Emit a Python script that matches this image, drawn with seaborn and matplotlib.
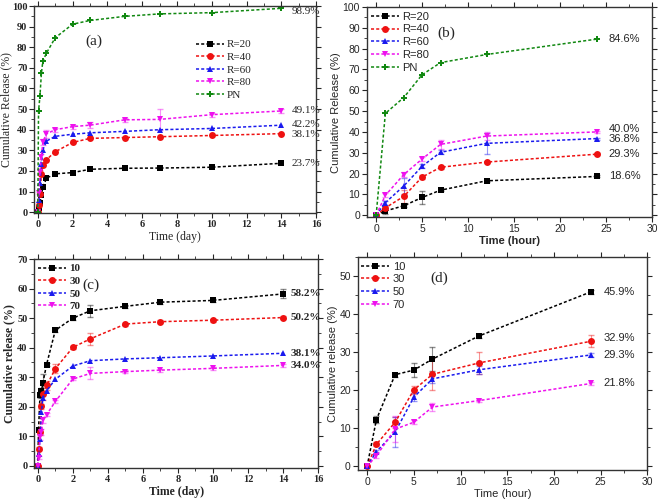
import numpy as np
import pandas as pd
import matplotlib
matplotlib.use("Agg")
import matplotlib.pyplot as plt
import seaborn as sns
from matplotlib.ticker import MultipleLocator, AutoMinorLocator

# time points
t_day = [0, 1/24, 3/24, 5/24, 7/24, 0.5, 1, 2, 3, 5, 7, 10, 14]
t_hour = [0, 1, 3, 5, 7, 12, 24]

# panel (a) - days
a_labels = ["R=20", "R=40", "R=60", "R=80", "PN"]
a_r20 = [0, 2.0, 4.5, 8.5, 12.0, 16.5, 18.6, 19.2, 20.8, 21.3, 21.4, 21.8, 23.7]
a_r40 = [0, 3.5, 9.0, 18.3, 23.0, 25.5, 29.3, 33.8, 35.8, 36.2, 36.6, 37.2, 38.1]
a_r60 = [0, 6.0, 14.0, 23.5, 30.2, 34.5, 36.8, 37.8, 38.5, 39.2, 40.0, 40.6, 42.2]
a_r80 = [0, 9.5, 19.5, 27.0, 34.0, 38.0, 40.0, 41.5, 42.2, 44.8, 45.0, 47.3, 49.1]
a_pn = [0, 48.9, 56.5, 67.5, 73.3, 77.2, 84.6, 91.2, 93.0, 95.0, 96.2, 96.8, 98.9]
a_err80 = [0, 0.5, 1, 1, 1.5, 2, 1, 1, 1.5, 1, 5, 1, 1]

# panel (b) - hours
b_r20 = [0, 2.0, 4.5, 8.5, 12.0, 16.5, 18.6]
b_r40 = [0, 3.5, 9.0, 18.3, 23.0, 25.5, 29.3]
b_r60 = [0, 6.0, 14.0, 23.5, 30.2, 34.5, 36.8]
b_r80 = [0, 9.5, 19.5, 27.0, 34.0, 38.0, 40.0]
b_pn = [0, 48.9, 56.5, 67.5, 73.3, 77.2, 84.6]
b_err20 = [0, 1.5, 0.5, 3.0, 0.5, 0.5, 0.5]
b_err40 = [0, 1.0, 3.0, 1.0, 0.8, 0.5, 0.5]
b_err60 = [0, 1.0, 4.0, 1.0, 1.0, 5.0, 0.5]
b_err80 = [0, 1.0, 1.0, 1.0, 2.0, 2.0, 0.5]

# panel (c) - days
c_labels = ["10", "30", "50", "70"]
c_10 = [0, 12.3, 24.1, 25.3, 28.2, 34.3, 45.9, 50.0, 52.5, 54.0, 55.4, 56.0, 58.2]
c_30 = [0, 5.8, 11.6, 20.1, 24.2, 27.2, 32.9, 40.1, 43.0, 48.0, 48.8, 49.3, 50.2]
c_50 = [0, 3.9, 9.0, 18.2, 23.0, 25.4, 29.3, 33.8, 35.6, 36.2, 36.6, 37.2, 38.1]
c_70 = [0, 2.8, 9.8, 11.6, 15.6, 17.3, 21.8, 29.4, 31.3, 31.9, 32.4, 33.0, 34.0]
c_err10 = [0, 0.5, 1, 1, 3, 0.5, 0.5, 0.5, 2.0, 0.5, 0.5, 0.5, 1.5]
c_err30 = [0, 0.5, 1, 1, 2, 1.5, 1.5, 0.5, 2.0, 0.5, 0.5, 0.5, 0.5]
c_err70 = [0, 0.5, 1, 1, 1, 0.5, 0.5, 0.5, 2.0, 0.5, 0.5, 0.5, 0.5]

# panel (d) - hours
d_10 = [0, 12.3, 24.1, 25.3, 28.2, 34.3, 45.9]
d_30 = [0, 5.8, 11.6, 20.1, 24.2, 27.2, 32.9]
d_50 = [0, 3.9, 9.0, 18.2, 23.0, 25.4, 29.3]
d_70 = [0, 2.8, 9.8, 11.6, 15.6, 17.3, 21.8]
d_err10 = [0, 1.0, 0.5, 1.8, 3.2, 0.5, 0.5]
d_err30 = [0, 0.5, 1.5, 1.0, 4.2, 2.8, 1.6]
d_err50 = [0, 0.5, 4.0, 1.0, 1.0, 1.0, 0.5]
d_err70 = [0, 0.5, 3.5, 0.5, 1.0, 0.5, 0.5]

colors = ["black", "#ee1111", "#1a1aee", "#ee11ee", "#118811"]
marks = ["s", "o", "^", "v", "P"]

sns.set_style("white")
plt.rcParams["axes.linewidth"] = 1.0


def build(x, series, labels):
    rows = []
    for lab, ys in zip(labels, series):
        for xi, yi in zip(x, ys):
            rows.append({"t": xi, "val": yi, "grp": lab})
    return pd.DataFrame(rows)


def panel(ax, x, series, labels, errs, font, weight, legend_loc):
    df = build(x, series, labels)
    pal = dict(zip(labels, colors))
    mk = dict(zip(labels, marks))
    ds = {lab: (2, 1.4) for lab in labels}
    sns.lineplot(data=df, x="t", y="val", hue="grp", style="grp", palette=pal,
                 markers=mk, dashes=ds, markersize=5, markeredgewidth=0,
                 linewidth=1.1, ax=ax, legend=True)
    for i, e in errs.items():
        ax.errorbar(x, series[i], yerr=e, fmt="none", ecolor=colors[i],
                    alpha=0.45, elinewidth=0.8, capsize=2, zorder=1)
    ax.legend(loc=legend_loc[0], bbox_to_anchor=legend_loc[1], frameon=False,
              prop={"family": font, "size": 8, "weight": weight},
              handlelength=2.5, handletextpad=0.3, labelspacing=0.25,
              borderaxespad=0.2)
    ax.tick_params(which="both", direction="out", top=True, right=True,
                   bottom=True, left=True, labelsize=7.5, pad=1.5)
    ax.tick_params(which="major", length=3.5)
    ax.tick_params(which="minor", length=2)
    ax.xaxis.set_minor_locator(AutoMinorLocator(2))
    ax.yaxis.set_minor_locator(AutoMinorLocator(2))
    for lb in ax.get_xticklabels() + ax.get_yticklabels():
        lb.set_family(font)
        lb.set_weight(weight)
    for s in ax.spines.values():
        s.set_color("#333333")


def end_labels(ax, xpos, ys, texts, font, weight, dys=None):
    for i, (y, tx) in enumerate(zip(ys, texts)):
        dy = 0 if dys is None else dys[i]
        ax.text(xpos, y + dy, tx, fontsize=8, family=font, weight=weight,
                va="center", ha="left")


fig = plt.figure(figsize=(6.6, 5.04), dpi=100)
ax_a = fig.add_axes([0.052, 0.577, 0.427, 0.411])
ax_b = fig.add_axes([0.556, 0.569, 0.432, 0.417])
ax_c = fig.add_axes([0.052, 0.071, 0.43, 0.415])
ax_d = fig.add_axes([0.542, 0.067, 0.439, 0.423])

serif = "Liberation Serif"
sans = "Liberation Sans"

# (a)
panel(ax_a, t_day, [a_r20, a_r40, a_r60, a_r80, a_pn], a_labels, {3: a_err80},
      serif, "bold", ("upper left", (0.55, 0.87)))
for t in ax_a.get_legend().get_texts():
    t.set_weight("normal")
ax_a.set_xlim(-0.2, 16)
ax_a.set_ylim(-0.5, 100)
ax_a.xaxis.set_major_locator(MultipleLocator(2))
ax_a.yaxis.set_major_locator(MultipleLocator(10))
ax_a.set_xlabel("Time (day)", family=serif, fontsize=8.5, labelpad=1)
ax_a.set_ylabel("Cumulative Release (%)", family=serif, fontsize=8.5, labelpad=0)
ax_a.text(0.21, 0.83, "(a)", transform=ax_a.transAxes, family=serif,
          fontsize=11, ha="center", va="center")
end_labels(ax_a, 14.6, [a_pn[-1], a_r80[-1], a_r60[-1], a_r40[-1], a_r20[-1]],
           ["98.9%", "49.1%", "42.2%", "38.1%", "23.7%"], serif, "normal",
           [-1.5, 0, 0.3, -0.3, 0])

# (b)
panel(ax_b, t_hour, [b_r20, b_r40, b_r60, b_r80, b_pn], a_labels,
      {0: b_err20, 1: b_err40, 2: b_err60, 3: b_err80},
      sans, "normal", ("upper left", (-0.01, 1.01)))
ax_b.set_xlim(-1, 30)
ax_b.set_ylim(-1, 100)
ax_b.xaxis.set_major_locator(MultipleLocator(5))
ax_b.yaxis.set_major_locator(MultipleLocator(10))
ax_b.set_xlabel("Time (hour)", family=sans, fontsize=8, weight="bold", labelpad=1)
ax_b.set_ylabel("Cumulative Release (%)", family=sans, fontsize=8, labelpad=1)
ax_b.text(0.28, 0.876, "(b)", transform=ax_b.transAxes, family=serif,
          fontsize=11, ha="center", va="center")
end_labels(ax_b, 25.3, [b_pn[-1], b_r80[-1], b_r60[-1], b_r40[-1], b_r20[-1]],
           ["84.6%", "40.0%", "36.8%", "29.3%", "18.6%"], sans, "normal",
           [0, 1.5, 0, 0, 0])

# (c)
panel(ax_c, t_day, [c_10, c_30, c_50, c_70], c_labels,
      {0: c_err10, 1: c_err30, 3: c_err70},
      serif, "bold", ("upper left", (-0.01, 1.01)))
ax_c.set_xlim(-0.2, 16)
ax_c.set_ylim(-0.8, 70)
ax_c.xaxis.set_major_locator(MultipleLocator(2))
ax_c.yaxis.set_major_locator(MultipleLocator(10))
ax_c.set_xlabel("Time (day)", family=serif, fontsize=8.5, weight="bold", labelpad=1)
ax_c.set_ylabel("Cumulative release (%)", family=serif, fontsize=8.5,
                weight="bold", labelpad=1)
ax_c.text(0.2, 0.876, "(c)", transform=ax_c.transAxes, family=serif,
          fontsize=11, ha="center", va="center")
end_labels(ax_c, 14.4, [c_10[-1], c_30[-1], c_50[-1], c_70[-1]],
           ["58.2%", "50.2%", "38.1%", "34.0%"], serif, "bold")

# (d)
panel(ax_d, t_hour, [d_10, d_30, d_50, d_70], c_labels,
      {0: d_err10, 1: d_err30, 2: d_err50, 3: d_err70},
      sans, "normal", ("upper left", (-0.01, 1.01)))
ax_d.set_xlim(-1, 30)
ax_d.set_ylim(-1, 55)
ax_d.xaxis.set_major_locator(MultipleLocator(5))
ax_d.yaxis.set_major_locator(MultipleLocator(10))
ax_d.set_xlabel("Time (hour)", family=sans, fontsize=8, labelpad=1)
ax_d.set_ylabel("Cumulative release (%)", family=sans, fontsize=8, labelpad=1)
ax_d.text(0.28, 0.9, "(d)", transform=ax_d.transAxes, family=serif,
          fontsize=11, ha="center", va="center")
end_labels(ax_d, 25.3, [d_10[-1], d_30[-1], d_50[-1], d_70[-1]],
           ["45.9%", "32.9%", "29.3%", "21.8%"], sans, "normal",
           [0, 0.8, 0, 0])

fig.savefig("out.png", dpi=100)
